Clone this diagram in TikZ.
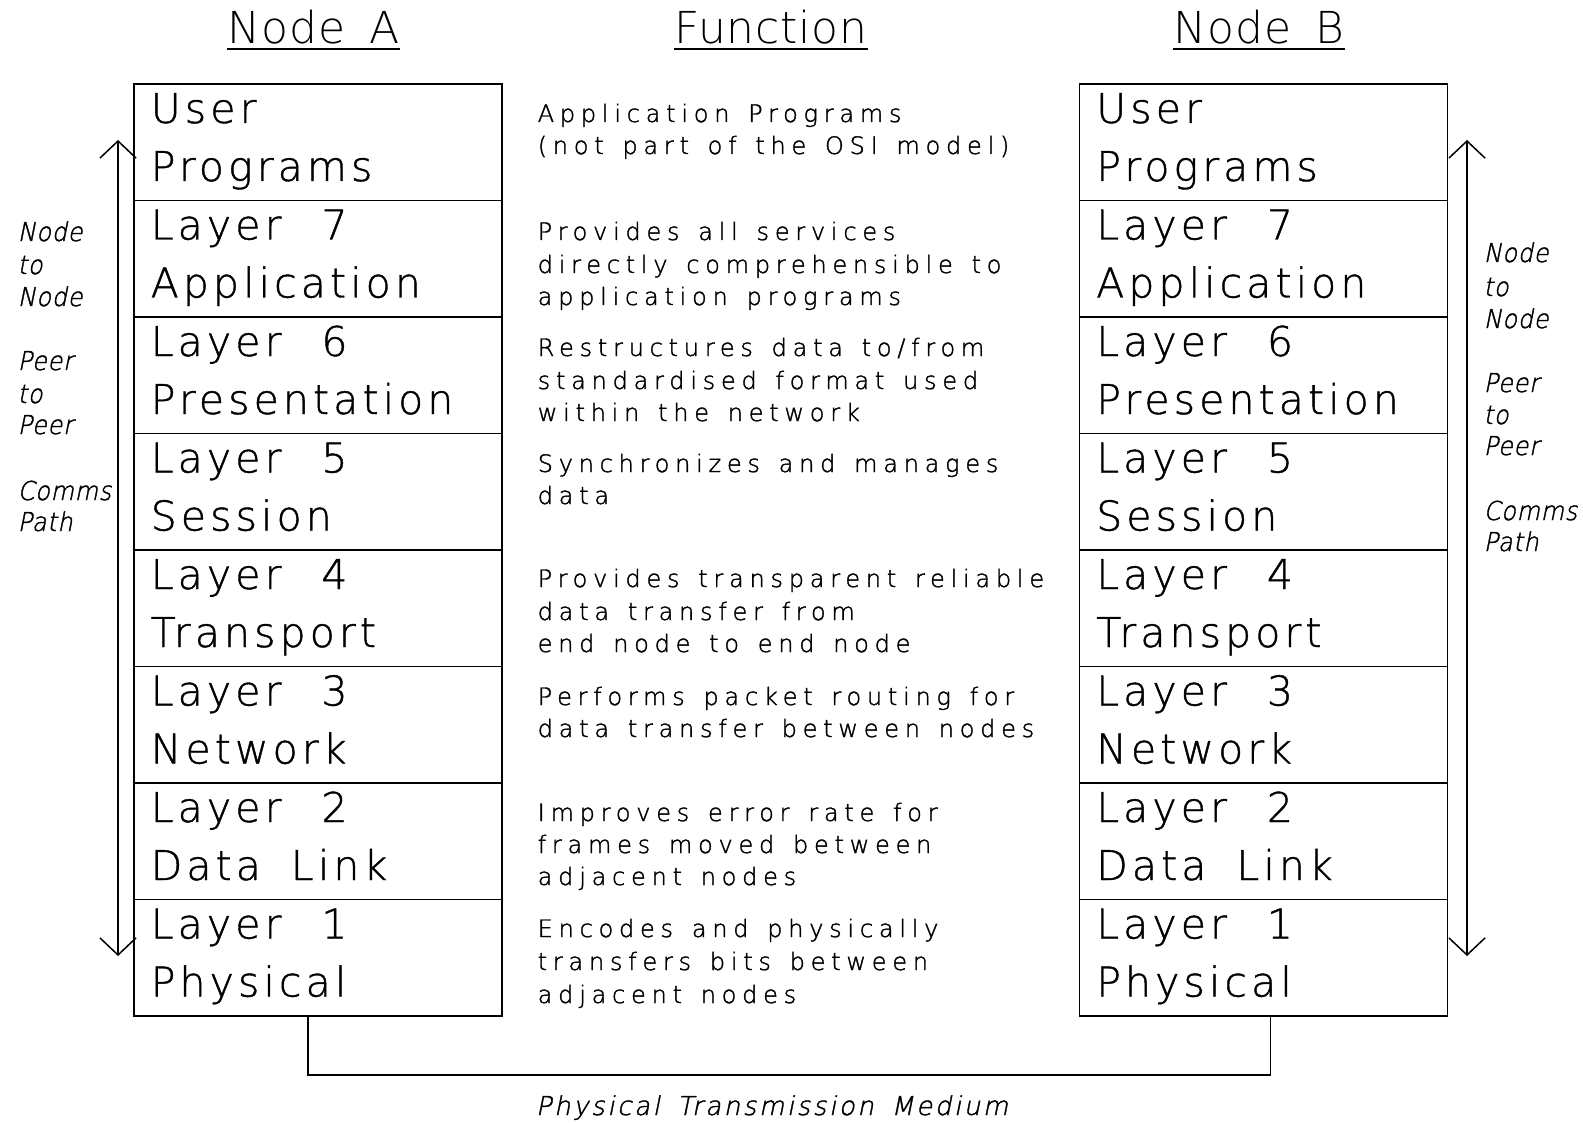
\documentclass[tikz,border=0pt]{standalone}
\usepackage{fontspec}
\usetikzlibrary{arrows.meta,calc}
% thin stroke lettering throughout
\newfontfamily\plotfont{DejaVu Sans ExtraLight}[LetterSpace=10,WordSpace=1.75,FakeBold=1]
\newfontfamily\funcfont{DejaVu Sans ExtraLight}[LetterSpace=24,WordSpace=1.4,FakeBold=1.5]
\newfontfamily\headfont{DejaVu Sans ExtraLight}[LetterSpace=2,WordSpace=1.6]
\newfontfamily\sidefont{DejaVu Sans ExtraLight}[LetterSpace=3,FakeSlant=0.2,FakeStretch=0.92,FakeBold=1.5]
\newfontfamily\medfont{DejaVu Sans ExtraLight}[LetterSpace=10,WordSpace=1.6,FakeSlant=0.2,FakeBold=1.5]
\newcommand\layerno[1]{Layer\ \hspace{10pt}#1}
\begin{document}
\begin{tikzpicture}[x=1pt,y=-1pt,line width=1.5pt,
  cell/.style={draw,line width=1.5pt,minimum width=368pt,minimum height=116.5pt,inner sep=0pt,outer sep=0pt},
  celltxt/.style={anchor=base west,inner sep=0pt,font=\plotfont\fontsize{41}{41}\selectfont},
  func/.style={anchor=base west,inner sep=0pt,font=\funcfont\fontsize{24}{24}\selectfont},
  side/.style={anchor=base west,inner sep=0pt,font=\sidefont\fontsize{26}{26}\selectfont},
  head/.style={anchor=base,inner sep=0pt,font=\headfont\fontsize{44}{44}\selectfont},
  medium/.style={anchor=base,inner sep=0pt,font=\medfont\fontsize{26}{26}\selectfont},
  dbl/.style={{Straight Barb[length=17pt,width=36pt]}-{Straight Barb[length=17pt,width=36pt]},line width=1.5pt}]

\fill[white] (0,0) rectangle (1583,1123);
\useasboundingbox (0,0) rectangle (1583,1123);

% column headings
\foreach \n/\x/\t in {hA/313.5/Node A, hF/771/Function, hB/1259/Node B}{
  \node[head] (\n) at (\x,44) {\t};
  \draw[line width=1.2pt] ([yshift=-5pt]\n.base west) -- ([yshift=-5pt]\n.base east);
}

% the two protocol stacks
\foreach \i/\a/\b in {0/User/Programs,1/\layerno{7}/Application,2/\layerno{6}/Presentation,
  3/\layerno{5}/Session,4/\layerno{4}/Transport,5/\layerno{3}/Network,6/\layerno{2}/Data Link,7/\layerno{1}/Physical}{
  \node[cell] (A\i) at (318,{84+116.5*\i+58.25}) {};
  \node[celltxt] (A\i a) at ([xshift=16pt,yshift=-39pt]A\i.north west) {\a};
  \node[celltxt] (A\i b) at ([xshift=16pt,yshift=-97pt]A\i.north west) {\b};
  \node[cell] (B\i) at (1263.5,{84+116.5*\i+58.25}) {};
  \node[celltxt] (B\i a) at ([xshift=16pt,yshift=-39pt]B\i.north west) {\a};
  \node[celltxt] (B\i b) at ([xshift=16pt,yshift=-97pt]B\i.north west) {\b};
}

% function descriptions
\node[func] (f01) at (537,122) {Application Programs};
\node[func] (f02) at (537,154) {(not part of the OSI model)};
\node[func] (f11) at (537,240) {Provides all services};
\node[func] (f12) at (537,273) {directly comprehensible to};
\node[func] (f13) at (537,305) {application programs};
\node[func] (f21) at (537,356) {Restructures data to/from};
\node[func] (f22) at (537,389) {standardised format used};
\node[func] (f23) at (537,421) {within the network};
\node[func] (f31) at (537,472) {Synchronizes and manages};
\node[func] (f32) at (537,504) {data};
\node[func] (f41) at (537,587) {Provides transparent reliable};
\node[func] (f42) at (537,620) {data transfer from};
\node[func] (f43) at (537,652) {end node to end node};
\node[func] (f51) at (537,705) {Performs packet routing for};
\node[func] (f52) at (537,737) {data transfer between nodes};
\node[func] (f61) at (537,821) {Improves error rate for};
\node[func] (f62) at (537,853) {frames moved between};
\node[func] (f63) at (537,885) {adjacent nodes};
\node[func] (f71) at (537,937) {Encodes and physically};
\node[func] (f72) at (537,970) {transfers bits between};
\node[func] (f73) at (537,1003) {adjacent nodes};

% peer-to-peer paths beside each stack
\coordinate (LT) at (118,140);
\coordinate (LB) at (118,956);
\draw[dbl] (LT) -- (LB);
\coordinate (RT) at (1467,140);
\coordinate (RB) at (1467,956);
\draw[dbl] (RT) -- (RB);

\foreach \n/\y/\t in {l1/241/Node,l2/274/to,l3/306/Node,l4/370/Peer,l5/403/to,l6/434/Peer,l7/500/Comms,l8/531/Path}{
  \node[side] (\n) at (17,\y) {\t};
}
\foreach \n/\y/\t in {r1/262/Node,r2/296/to,r3/328/Node,r4/392/Peer,r5/424/to,r6/455/Peer,r7/520/Comms,r8/551/Path}{
  \node[side] (\n) at (1483,\y) {\t};
}

% physical link between the two stacks
\draw ([xshift=174pt]A7.south west) -- ++(0,59) -| ([xshift=191pt]B7.south west);
\node[medium] (med) at (772,1115) {Physical Transmission Medium};
\end{tikzpicture}
\end{document}
